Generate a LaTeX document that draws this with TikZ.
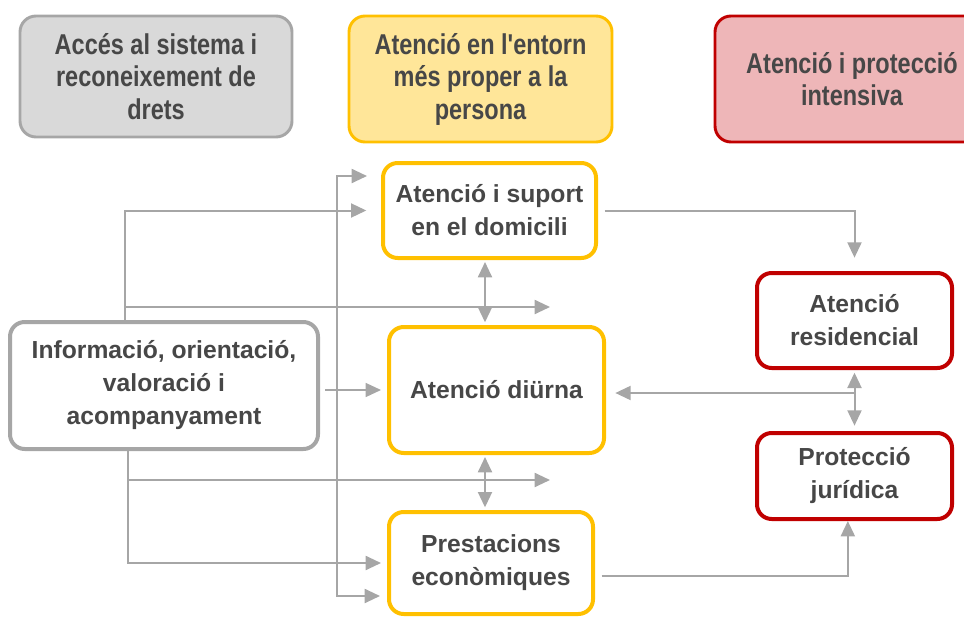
\documentclass[tikz,border=0pt]{standalone}
\usepackage{fontspec}
\setmainfont{Liberation Sans}
\newfontfamily\headfont[FakeStretch=0.82]{Liberation Sans}
\usepackage{tikz}
\usetikzlibrary{arrows.meta}
\definecolor{linegray}{HTML}{A6A6A6}
\definecolor{textgray}{HTML}{474747}
\definecolor{accfill}{HTML}{D9D9D9}
\definecolor{accline}{HTML}{A6A6A6}
\definecolor{entfill}{HTML}{FFE699}
\definecolor{entline}{HTML}{FFC000}
\definecolor{intfill}{HTML}{EEB6B8}
\definecolor{intline}{HTML}{C00000}

\begin{document}
\begin{tikzpicture}[x=0.75pt, y=-0.75pt,
  head/.style={draw, rounded corners=12pt, align=center, line width=2.2pt, text=textgray,
    font=\headfont\fontsize{21.5}{24.4}\selectfont\bfseries},
  box/.style={draw, rounded corners=11pt, align=center, fill=white, line width=3pt, text=textgray,
    font=\fontsize{18.5}{24.75}\selectfont\bfseries},
  conn/.style={draw=linegray, line width=1.5pt, -{Triangle[length=11.5pt,width=10.5pt]}},
  twoway/.style={conn, {Triangle[length=11.5pt,width=10.5pt]}-{Triangle[length=11.5pt,width=10.5pt]}}]
\useasboundingbox (0,0) rectangle (964,617);
\clip (0,0) rectangle (964,617);

% headings
\node[head, fill=accfill, draw=accline, minimum width=204pt, minimum height=90.75pt] (acces) at (156,76.5)
{Accés al sistema i\\reconeixement de\\drets};
\node[head, fill=entfill, draw=entline, minimum width=197.25pt, minimum height=94.5pt] (entorn) at (480.5,79)
{Atenció en l'entorn\\més proper a la\\persona};
\node[head, fill=intfill, draw=intline, minimum width=205.5pt, minimum height=94.5pt] (intensiva) at (852,79)
{Atenció i protecció\\intensiva};

% services
\node[box, draw=accline, minimum width=231pt, minimum height=95.25pt] (info) at (164,385.5)
{Informació, orientació,\\valoració i\\acompanyament};
\node[box, draw=entline, minimum width=159.75pt, minimum height=71.25pt] (domicili) at (489.5,210.5)
{Atenció i suport\\en el domicili};
\node[box, draw=entline, minimum width=161.25pt, minimum height=94.5pt] (diurna) at (496.5,390)
{Atenció diürna};
\node[box, draw=entline, minimum width=153pt, minimum height=76.5pt] (prestacions) at (491,563)
{Prestacions\\econòmiques};
\node[box, draw=intline, minimum width=146.25pt, minimum height=71.25pt] (residencial) at (854.5,320.5)
{Atenció\\residencial};
\node[box, draw=intline, minimum width=146.25pt, minimum height=64.5pt] (juridica) at (854.5,476)
{Protecció\\jurídica};

\coordinate (upfork) at (125,307);
\coordinate (upend) at (550,307);
\coordinate (downfork) at (128,480);
\coordinate (downend) at (550,480);
\coordinate (bartop) at (367,176);
\coordinate (barbot) at (380,596);
\coordinate (barx) at (337,0);
\coordinate (midx) at (485,0);
\coordinate (rightfork) at (855,393);

\draw[conn, shorten >=11pt] (info.north -| upfork) |- (domicili);
\draw[conn] (upfork) -- (upend);
\draw[conn, line width=1pt, shorten <=4pt, shorten >=4.5pt] (info.east |- diurna) -- (diurna);
\draw[conn, shorten >=4.5pt] (info.south -| downfork) |- (prestacions);
\draw[conn] (downfork) -- (downend);
\draw[twoway] (bartop) -- (bartop -| barx) -- (barbot -| barx) -- (barbot);
\draw[twoway, shorten <=1.5pt, shorten >=2pt] (domicili.south -| midx) -- (diurna.north -| midx);
\draw[twoway, shorten <=1.5pt, shorten >=2pt] (diurna.south -| midx) -- (prestacions.north -| midx);
\draw[conn, shorten <=5pt, shorten >=10pt] (domicili.east) -| (residencial);
\draw[twoway, shorten <=2pt, shorten >=4pt] (residencial) -- (juridica);
\draw[conn, shorten >=7pt] (rightfork) -- (diurna.east |- rightfork);
\draw[conn, shorten <=5pt] ([yshift=-10pt]prestacions.east) -| ([xshift=-5pt]juridica.south);
\end{tikzpicture}
\end{document}
